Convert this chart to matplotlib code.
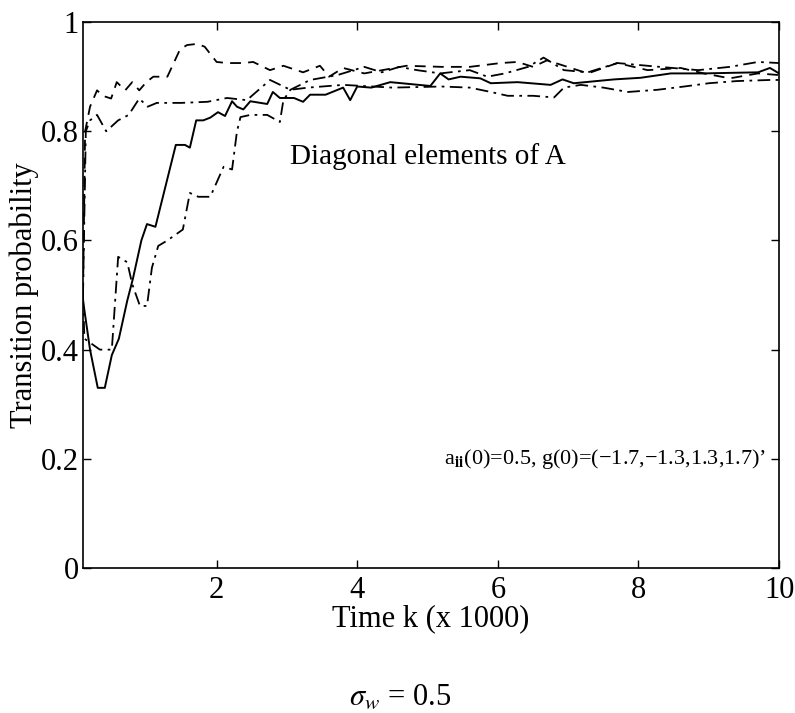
import matplotlib
matplotlib.use("Agg")
import matplotlib.pyplot as plt

plt.rcParams['font.family'] = ['Liberation Serif', 'DejaVu Serif']
plt.rcParams['mathtext.fontset'] = 'stix'

# solid line
t_solid = [0.1, 0.2, 0.31, 0.41, 0.51, 0.61, 0.73, 0.81, 0.93, 1.01, 1.13, 1.42, 1.55, 1.62,
           1.71, 1.81, 1.91, 2.02, 2.12, 2.22, 2.29, 2.38, 2.48, 2.72, 2.8, 2.9, 3.1, 3.23,
           3.33, 3.55, 3.8, 3.9, 4.0, 4.2, 4.47, 5.04, 5.18, 5.3, 5.47, 5.75, 5.9, 6.28, 6.75,
           6.92, 7.08, 7.65, 8.03, 8.46, 8.93, 9.3, 9.7, 9.87, 10.0]
p_solid = [0.49, 0.40, 0.33, 0.33, 0.39, 0.42, 0.49, 0.53, 0.60, 0.63, 0.625, 0.775, 0.775, 0.77,
           0.82, 0.82, 0.825, 0.835, 0.828, 0.855, 0.845, 0.84, 0.855, 0.85, 0.872, 0.861, 0.861, 0.854,
           0.867, 0.867, 0.88, 0.857, 0.882, 0.88, 0.89, 0.883, 0.906, 0.895, 0.90, 0.897, 0.888, 0.89, 0.885,
           0.895, 0.888, 0.895, 0.898, 0.906, 0.906, 0.907, 0.908, 0.916, 0.906]

# dashed line
t_dash = [0.1, 0.13, 0.2, 0.3, 0.38, 0.5, 0.58, 0.7, 0.8, 0.9, 1.0, 1.1, 1.3, 1.48, 1.58, 1.72,
          1.83, 2.0, 2.15, 2.38, 2.52, 2.76, 2.95, 3.23, 3.47, 3.6, 3.8, 4.1, 4.7, 5.2, 5.6,
          6.04, 6.28, 6.5, 6.7, 7.28, 7.7, 8.13, 8.6, 8.93, 9.3, 9.7, 10.0]
p_dash = [0.5, 0.80, 0.845, 0.875, 0.865, 0.86, 0.89, 0.875, 0.89, 0.875, 0.89, 0.90, 0.90, 0.95, 0.958, 0.96,
          0.955, 0.927, 0.925, 0.925, 0.927, 0.912, 0.92, 0.908, 0.92, 0.90, 0.916, 0.906, 0.92, 0.918, 0.918,
          0.925, 0.927, 0.918, 0.93, 0.906, 0.925, 0.912, 0.916, 0.906, 0.897, 0.906, 0.903]

# dash-dot, fast (flat near 0.85 early)
t_dd1 = [0.1, 0.14, 0.2, 0.3, 0.43, 0.6, 0.75, 0.9, 1.02, 1.15, 1.5, 1.87, 2.15, 2.43, 2.76,
         3.05, 3.3, 3.8, 4.5, 5.2, 5.6, 5.9, 6.14, 6.5, 6.8, 6.94, 7.18, 7.5, 7.85, 8.27,
         8.65, 9.0, 9.4, 9.87, 10.0]
p_dd1 = [0.5, 0.80, 0.82, 0.83, 0.80, 0.82, 0.83, 0.86, 0.845, 0.852, 0.852, 0.854, 0.861, 0.857, 0.894,
         0.876, 0.88, 0.885, 0.88, 0.882, 0.88, 0.872, 0.865, 0.865, 0.862, 0.88, 0.885, 0.88, 0.872, 0.876,
         0.882, 0.888, 0.892, 0.894, 0.894]

# dash-dot, slow
t_dd2 = [0.1, 0.12, 0.34, 0.51, 0.6, 0.73, 0.8, 0.91, 1.01, 1.08, 1.17, 1.3, 1.41, 1.52, 1.62,
         1.74, 1.91, 2.1, 2.22, 2.29, 2.34, 2.48, 2.72, 2.9, 2.95, 3.05, 3.33, 3.72, 4.1, 4.35,
         4.6, 4.85, 5.18, 5.6, 5.85, 6.1, 6.43, 6.65, 6.94, 7.28, 7.7, 8.3, 8.85, 9.3, 9.7, 10.0]
p_dd2 = [0.5, 0.42, 0.40, 0.40, 0.57, 0.56, 0.52, 0.48, 0.48, 0.55, 0.59, 0.60, 0.61, 0.62, 0.687,
         0.68, 0.68, 0.735, 0.73, 0.80, 0.826, 0.83, 0.83, 0.817, 0.857, 0.876, 0.894, 0.903, 0.918, 0.908,
         0.918, 0.912, 0.906, 0.912, 0.90, 0.906, 0.918, 0.935, 0.912, 0.908, 0.925, 0.918, 0.912, 0.918, 0.927, 0.925]

fig = plt.figure(figsize=(7.95, 7.13), dpi=100)
ax = fig.add_axes([0.1044, 0.2034, 0.8756, 0.7656])

ax.plot(t_solid, p_solid, color='black', lw=1.4, ls='-')
ax.plot(t_dash, p_dash, color='black', lw=1.3, dashes=(6, 4))
ax.plot(t_dd1, p_dd1, color='black', lw=1.3, dashes=(7, 3, 1.5, 3))
ax.plot(t_dd2, p_dd2, color='black', lw=1.3, dashes=(7, 3, 1.5, 3))

ax.set_xlim(0.1, 10)
ax.set_ylim(0, 1)
ax.set_xticks([2, 4, 6, 8, 10])
ax.set_yticks([0, 0.2, 0.4, 0.6, 0.8, 1])
ax.set_yticklabels(['0', '0.2', '0.4', '0.6', '0.8', '1'])
ax.tick_params(direction='in', top=True, right=True, length=6, width=1,
               labelsize=22, pad=6)
ax.tick_params(axis='y', pad=3)
for s in ax.spines.values():
    s.set_linewidth(1.2)

ax.set_xlabel('Time k (x 1000)', fontsize=22, labelpad=-1)
ax.set_ylabel('Transition probability', fontsize=22, labelpad=1)

ax.text(3.05, 0.753, 'Diagonal elements of A', fontsize=21, va='center', ha='left')
ax.text(5.23, 0.20, 'a$_{\\mathbf{ii}}$(0)=0.5, g(0)=(\u22121.7,\u22121.3,1.3,1.7)\u2019',
        fontsize=16, va='center', ha='left')

fig.text(0.503, 0.022, r'$\sigma_w$ = 0.5', fontsize=22, ha='center', va='center')

fig.savefig('out.png', dpi=100)
